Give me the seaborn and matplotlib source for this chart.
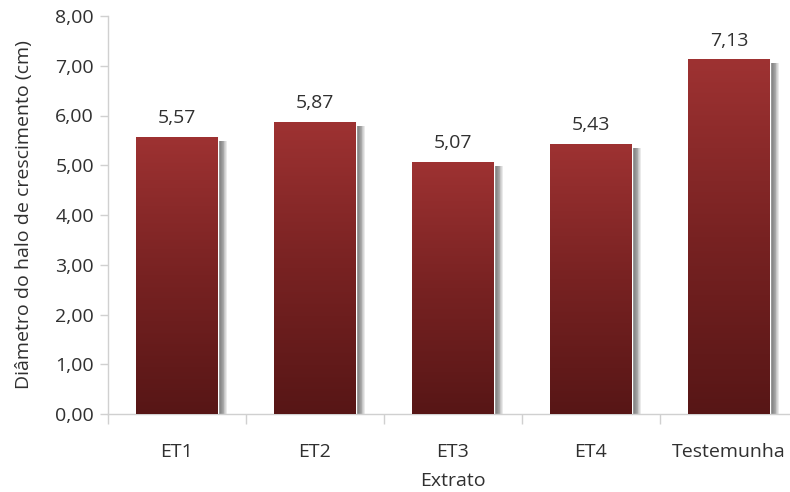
import numpy as np
import pandas as pd
import matplotlib
matplotlib.use("Agg")
import matplotlib.pyplot as plt
import matplotlib.patheffects as pe
from matplotlib.colors import LinearSegmentedColormap
import seaborn as sns

# Growth halo diameter per extract
extratos = ["ET1", "ET2", "ET3", "ET4", "Testemunha"]
diametros = [5.57, 5.87, 5.07, 5.43, 7.13]
y_ticks = [0, 1, 2, 3, 4, 5, 6, 7, 8]

df = pd.DataFrame({"Extrato": extratos, "Diametro": diametros})

sns.set_theme(style="white")
plt.rcParams["font.family"] = ["Open Sans", "DejaVu Sans"]

text_color = "#303030"
axis_color = "#d0d0d0"
fs = 14

fig = plt.figure(figsize=(7.9, 4.92), dpi=100)
ax = fig.add_axes([108 / 790, 78 / 492, 690 / 790, 398 / 492])

sns.barplot(data=df, x="Extrato", y="Diametro", color="#8b2a2a",
            width=0.59, ax=ax, zorder=2)

ax.set_xlim(-0.5, 4.5)
ax.set_ylim(0, 8)

# vertical gradient: bright red at the top, dark maroon at the base
cmap = LinearSegmentedColormap.from_list("barra", ["#571616", "#782222", "#9e3232"])
grad = np.linspace(0, 1, 256).reshape(-1, 1)

# soft drop shadow on the right side of each bar
shadow = [pe.SimplePatchShadow(offset=(d, -3), shadow_rgbFace="#404040",
                               alpha=0.11) for d in np.arange(0.6, 7.0, 0.6)]

for bar, val in zip(ax.patches, diametros):
    x0, w, h = bar.get_x(), bar.get_width(), bar.get_height()
    bar.set_path_effects(shadow + [pe.Normal()])
    img = ax.imshow(grad, cmap=cmap, origin="lower", aspect="auto",
                    extent=[x0, x0 + w, 0, h], zorder=3, interpolation="bilinear")
    img.set_clip_path(bar)
    ax.annotate(f"{val:.2f}".replace(".", ","), (x0 + w / 2, h),
                xytext=(0, 7), textcoords="offset points",
                ha="center", va="bottom", fontsize=fs, color=text_color)

ax.set_xlim(-0.5, 4.5)
ax.set_ylim(0, 8)

ax.set_yticks(y_ticks)
ax.set_yticklabels([f"{t:.2f}".replace(".", ",") for t in y_ticks])
ax.set_xticks(range(len(extratos)))
ax.set_xticklabels(extratos)
ax.set_xticks(np.arange(-0.5, 5.0, 1.0), minor=True)

ax.tick_params(axis="y", which="major", left=True, length=6, width=1,
               color=axis_color, labelsize=fs, labelcolor=text_color, pad=4)
ax.tick_params(axis="x", which="major", bottom=False, labelsize=fs,
               labelcolor=text_color, pad=15)
ax.tick_params(axis="x", which="minor", bottom=True, length=7, width=1,
               color=axis_color)

for side in ("top", "right"):
    ax.spines[side].set_visible(False)
for side in ("left", "bottom"):
    ax.spines[side].set_color(axis_color)
    ax.spines[side].set_linewidth(1)

ax.set_xlabel("Extrato", fontsize=fs, color=text_color, labelpad=8)
ax.set_ylabel("Diâmetro do halo de crescimento (cm)", fontsize=fs,
              color=text_color, labelpad=16)

fig.savefig("out.png", dpi=100)
